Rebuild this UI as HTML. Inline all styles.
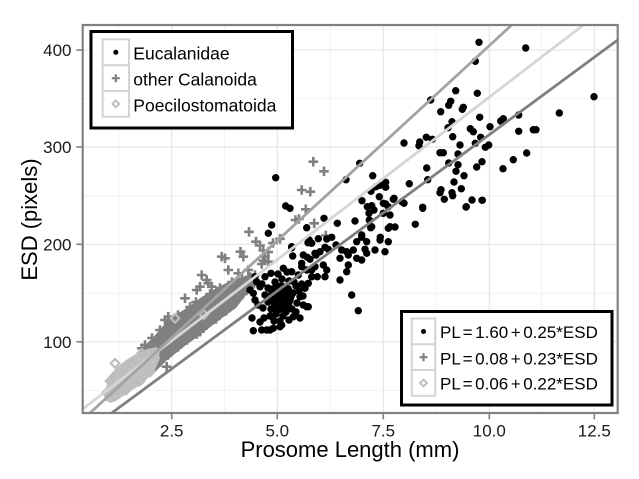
<!DOCTYPE html>
<html><head><meta charset="utf-8"><style>
html,body{margin:0;padding:0;background:#fff;}
svg{display:block;font-family:"Liberation Sans",Arial,sans-serif;}
</style></head><body>
<svg width="639" height="479" viewBox="0 0 639 479" xmlns="http://www.w3.org/2000/svg">
<defs><clipPath id="pc"><rect x="82.7" y="25" width="535" height="388"/></clipPath></defs>
<rect width="639" height="479" fill="#fff"/>
<g stroke="#f2f2f2" stroke-width="1">
<line x1="118.9" y1="25" x2="118.9" y2="413"/><line x1="224.5" y1="25" x2="224.5" y2="413"/><line x1="330.2" y1="25" x2="330.2" y2="413"/><line x1="435.9" y1="25" x2="435.9" y2="413"/><line x1="541.6" y1="25" x2="541.6" y2="413"/>
<line x1="82.7" y1="390.4" x2="617.7" y2="390.4"/><line x1="82.7" y1="293.2" x2="617.7" y2="293.2"/><line x1="82.7" y1="195.9" x2="617.7" y2="195.9"/><line x1="82.7" y1="98.6" x2="617.7" y2="98.6"/>
</g>
<g stroke="#e6e6e6" stroke-width="1.2">
<line x1="171.7" y1="25" x2="171.7" y2="413"/><line x1="277.3" y1="25" x2="277.3" y2="413"/><line x1="383.3" y1="25" x2="383.3" y2="413"/><line x1="489.3" y1="25" x2="489.3" y2="413"/><line x1="594.3" y1="25" x2="594.3" y2="413"/>
<line x1="82.7" y1="341.8" x2="617.7" y2="341.8"/><line x1="82.7" y1="244.3" x2="617.7" y2="244.3"/><line x1="82.7" y1="147" x2="617.7" y2="147"/><line x1="82.7" y1="50" x2="617.7" y2="50"/>
</g>
<g clip-path="url(#pc)">
<polygon fill="#808080" points="141.7,348.7 155,335.3 165,323.7 175,315.3 188.3,307 201.7,297 215,288.7 228.3,282 238.3,278.7 245,276 252,273 257,276 255,288 246,295 236,308 222,318 209,328 196,338 186,345 176,353 166,361 156,371 148,376 139,366"/>
<path fill="none" stroke="#808080" stroke-width="2.6" d="M308.5 161.7h9.6M313.3 156.9v9.6M319.2 171.3h9.6M324 166.5v9.6M296.9 190h9.6M301.7 185.2v9.6M305.5 191.7h9.6M310.3 186.9v9.6M301 209.3h9.6M305.8 204.5v9.6M290.7 220h9.6M295.5 215.2v9.6M294.2 219h9.6M299 214.2v9.6M309.4 223.3h9.6M314.2 218.5v9.6M321 235.5h9.6M325.8 230.7v9.6M275.2 238.8h9.6M280 234v9.6M244.2 231.8h9.6M249 227v9.6M251.2 241.7h9.6M256 236.9v9.6M255.2 245.5h9.6M260 240.7v9.6M258.5 250.5h9.6M263.3 245.7v9.6M263.5 252h9.6M268.3 247.2v9.6M260.2 256.7h9.6M265 251.9v9.6M258.5 260.5h9.6M263.3 255.7v9.6M263.5 261.7h9.6M268.3 256.9v9.6M256.9 264h9.6M261.7 259.2v9.6M235.7 251.7h9.6M240.5 246.9v9.6M238.5 256.7h9.6M243.3 251.9v9.6M216.9 256.7h9.6M221.7 251.9v9.6M220.2 258.3h9.6M225 253.5v9.6M223.5 270h9.6M228.3 265.2v9.6M233.5 273.3h9.6M238.3 268.5v9.6M243.5 270h9.6M248.3 265.2v9.6M250.2 275h9.6M255 270.2v9.6M196.9 275h9.6M201.7 270.2v9.6M201.9 280h9.6M206.7 275.2v9.6M195.2 286.7h9.6M200 281.9v9.6M203.5 283.3h9.6M208.3 278.5v9.6M191.9 290h9.6M196.7 285.2v9.6M206.9 286.7h9.6M211.7 281.9v9.6M180.2 298.3h9.6M185 293.5v9.6M163.5 316.7h9.6M168.3 311.9v9.6M160.2 320h9.6M165 315.2v9.6M136.9 348.3h9.6M141.7 343.5v9.6M201.9 325h9.6M206.7 320.2v9.6M195.2 331.7h9.6M200 326.9v9.6M161.9 366.7h9.6M166.7 361.9v9.6M268.2 243h9.6M273 238.2v9.6M140.2 345h9.6M145 340.2v9.6M147.2 338h9.6M152 333.2v9.6M155.2 330h9.6M160 325.2v9.6M165.2 322h9.6M170 317.2v9.6M173.2 315h9.6M178 310.2v9.6M185.2 307h9.6M190 302.2v9.6M191.2 302h9.6M196 297.2v9.6M205.2 294h9.6M210 289.2v9.6M215.2 288h9.6M220 283.2v9.6M227.2 282h9.6M232 277.2v9.6M237.2 279h9.6M242 274.2v9.6M245.2 277h9.6M250 272.2v9.6M238.2 294h9.6M243 289.2v9.6M230.2 302h9.6M235 297.2v9.6M221.2 311h9.6M226 306.2v9.6M211.2 319h9.6M216 314.2v9.6M192.2 334h9.6M197 329.2v9.6M182.2 340h9.6M187 335.2v9.6M173.2 347h9.6M178 342.2v9.6M163.2 355h9.6M168 350.2v9.6M155.2 362h9.6M160 357.2v9.6M147.2 368h9.6M152 363.2v9.6M247.2 285h9.6M252 280.2v9.6"/>
<polygon fill="#bfbfbf" points="104,400 106,388 109,376 116,368 126,360 136,354 147,349 157,347 160,358 155,370 147,379 139,386 129,392 119,399 111,403"/>
<path fill="none" stroke="#bdbdbd" stroke-width="2.2" d="M175 314l4.3 4.3-4.3 4.3-4.3-4.3zM203.8 310.2l4.3 4.3-4.3 4.3-4.3-4.3zM154.3 349l4.3 4.3-4.3 4.3-4.3-4.3zM141.7 349l4.3 4.3-4.3 4.3-4.3-4.3zM115 359l4.3 4.3-4.3 4.3-4.3-4.3zM106.7 388.4l4.3 4.3-4.3 4.3-4.3-4.3zM110 376.7l4.3 4.3-4.3 4.3-4.3-4.3zM120 367.7l4.3 4.3-4.3 4.3-4.3-4.3zM132 359.7l4.3 4.3-4.3 4.3-4.3-4.3zM150 367.7l4.3 4.3-4.3 4.3-4.3-4.3zM140 376.7l4.3 4.3-4.3 4.3-4.3-4.3zM126 385.7l4.3 4.3-4.3 4.3-4.3-4.3zM115 391.7l4.3 4.3-4.3 4.3-4.3-4.3z"/>
<polygon fill="#000" points="270,286 281,282 291,286 295,296 292,305 285,311 278,314 272,307 268,297"/>
<path fill="none" stroke="#000" stroke-width="7.4" stroke-linecap="round" d="M479 42.3h0M525.7 48h0M475.3 61.3h0M455.7 90.7h0M477.3 93.3h0M430.7 100h0M450.7 101.3h0M448.7 105.3h0M463.3 107.3h0M462.3 109.3h0M440.7 111.7h0M559.3 113h0M518.7 115h0M479.7 117.3h0M503.3 118.7h0M500.7 121h0M452 121.7h0M448 127.7h0M490 126.7h0M470.3 128.7h0M473.3 131.7h0M518.7 131.3h0M533.3 129.7h0M536 129.7h0M452.7 136.7h0M480.7 137.3h0M426.3 137.3h0M432.3 139.3h0M419.7 142h0M419 145.7h0M404 143h0M475.3 143.3h0M460 145h0M488.7 145h0M485.3 147.3h0M440 152.7h0M443.3 152.7h0M458 154h0M526.7 153h0M513.3 159.7h0M503 168.7h0M482 161.7h0M476.7 167h0M448.7 163h0M458 164.7h0M426.7 168h0M456 171.3h0M464 175.7h0M359.7 163.3h0M346 179.7h0M372.7 175.7h0M427.7 179.7h0M454 182h0M385.7 182.3h0M385.7 187.3h0M380 185.3h0M376 186.7h0M409.3 183.7h0M371 191.3h0M441 189.7h0M440 192.7h0M461.3 188.7h0M452 192.7h0M452.7 195.7h0M379.3 196.7h0M394 198.3h0M362 200.7h0M444.3 199.3h0M472 200h0M482.3 200.3h0M402 201.7h0M404 203.3h0M385.7 204h0M388.3 206.7h0M371.7 205.7h0M367.3 206.7h0M422.7 207.3h0M466.3 206.7h0M594 96.7h0M324 218.3h0M337.3 223.3h0M355 221h0M370.7 227.7h0M390 226.7h0M395 227h0M415.3 224.3h0M361.7 235h0M380.3 237.3h0M331.7 237.3h0M422.7 208.3h0M466 207h0M482 200.3h0M275.7 177.7h0M285.7 206h0M290 208.3h0M374 210h0M383.3 203.3h0M393.3 199.3h0M271.7 225h0M268.3 233.3h0M306.7 227.7h0M369 213.3h0M369.3 220h0M371.7 226.7h0M383.3 213.3h0M390 215h0M388.3 228.3h0M318.3 238.7h0M326.7 239h0M309.3 240h0M308 242.7h0M291.7 247.7h0M292.7 256h0M303.3 255h0M307.3 257.3h0M310 259.3h0M316 255h0M320 251.7h0M325 247.3h0M328.3 249.3h0M336 245h0M341.7 250h0M346.7 251.7h0M353.3 250h0M356.7 241.7h0M361.7 237.3h0M366.7 241.7h0M365 249.3h0M375 250h0M380 240h0M385 251.7h0M388.3 241.7h0M340 258.3h0M348.3 255h0M356.7 258.3h0M361.7 260h0M366.7 253.3h0M348.3 265h0M346.7 271.7h0M340 280h0M351.7 295h0M358.3 310.7h0M301.7 266.7h0M311.7 270h0M323.3 265h0M326.7 270h0M317.3 276.7h0M325 276.7h0M308.3 283.3h0M301.7 284h0M305 288.3h0M283.3 268.3h0M291.7 271.7h0M298.3 275h0M271 273.3h0M255 276.7h0M256.7 281.7h0M260 286.7h0M253.3 330.7h0M261.7 330h0M270 330h0M281.7 325h0M306.7 306.7h0M291.7 246.7h0M311.7 243.3h0M315 253.3h0M301.7 263.3h0M306.7 270h0M315 266.7h0M311.7 276.7h0M265 276.7h0M253.3 293.3h0M255 300h0M300 296.7h0M308.3 306.7h0M293.3 316.7h0M303.3 305h0M273.3 328.3h0M280 326.7h0M266.7 330h0M262 284h0M268 288h0M275 282h0M282 279h0M289 281h0M296 286h0M265 295h0M272 292h0M279 290h0M286 288h0M293 293h0M299 291h0M268 302h0M275 300h0M282 298h0M290 300h0M297 303h0M263 308h0M271 309h0M278 306h0M285 308h0M292 309h0M270 316h0M276 314h0M283 316h0M289 320h0M274 321h0M280 321h0M286 312h0M258 305h0M264 318h0M296 312h0M294 282h0M287 272h0M278 274h0M303 296h0M250 290h0M252 318h0M260 322h0M300 318h0"/>
<line x1="82.7" y1="409" x2="583.3" y2="25" stroke="#d6d6d6" stroke-width="2.8"/>
<line x1="90" y1="413" x2="511.7" y2="25" stroke="#a3a3a3" stroke-width="2.8"/>
<line x1="111.7" y1="413" x2="617.7" y2="40" stroke="#808080" stroke-width="2.8"/>
</g>
<rect x="82.7" y="25" width="535" height="388" fill="none" stroke="#808080" stroke-width="2.2"/>
<g stroke="#808080" stroke-width="1.6">
<line x1="76.3" y1="341.8" x2="82.7" y2="341.8"/><line x1="76.3" y1="244.3" x2="82.7" y2="244.3"/><line x1="76.3" y1="147" x2="82.7" y2="147"/><line x1="76.3" y1="50" x2="82.7" y2="50"/>
<line x1="171.7" y1="413" x2="171.7" y2="419.3"/><line x1="277.3" y1="413" x2="277.3" y2="419.3"/><line x1="383.3" y1="413" x2="383.3" y2="419.3"/><line x1="489.3" y1="413" x2="489.3" y2="419.3"/><line x1="594.3" y1="413" x2="594.3" y2="419.3"/>
</g>
<g font-size="17" fill="#1a1a1a" text-anchor="end">
<text x="71.5" y="56">400</text><text x="71.5" y="153">300</text><text x="71.5" y="250.3">200</text><text x="71.5" y="347.8">100</text>
</g>
<g font-size="17" fill="#1a1a1a" text-anchor="middle">
<text x="171.7" y="436.3">2.5</text><text x="277.3" y="436.3">5.0</text><text x="383.3" y="436.3">7.5</text><text x="489.3" y="436.3">10.0</text><text x="594.3" y="436.3">12.5</text>
</g>
<text x="350" y="457" font-size="22" text-anchor="middle" fill="#000">Prosome Length (mm)</text>
<text transform="translate(37,219.5) rotate(-90)" font-size="22" text-anchor="middle" fill="#000">ESD (pixels)</text>
<rect x="91" y="31.5" width="201.5" height="96.5" fill="#fff" stroke="#000" stroke-width="3"/>
<g fill="#fff" stroke="#d4d4d4" stroke-width="2">
<rect x="102.7" y="39.3" width="26.3" height="26"/><rect x="102.7" y="65.3" width="26.3" height="25.8"/><rect x="102.7" y="91.1" width="26.3" height="25.6"/>
</g>
<circle cx="115.8" cy="52.3" r="2.5" fill="#000"/>
<path d="M111.8 78.2h8M115.8 74.2v8" stroke="#808080" stroke-width="2.2" fill="none"/>
<path d="M115.8 100.5l3.4 3.4-3.4 3.4-3.4-3.4z" stroke="#bdbdbd" stroke-width="1.9" fill="none"/>
<g font-size="17.5" fill="#000">
<text x="133.3" y="59.6">Eucalanidae</text><text x="133.3" y="85.6">other Calanoida</text><text x="133.3" y="111.4">Poecilostomatoida</text>
</g>
<rect x="401.5" y="311.5" width="210.5" height="93.5" fill="#fff" stroke="#000" stroke-width="3"/>
<g fill="#fff" stroke="#d4d4d4" stroke-width="2">
<rect x="411.7" y="318.5" width="23.5" height="25.8"/><rect x="411.7" y="344.3" width="23.5" height="25.7"/><rect x="411.7" y="370" width="23.5" height="25.8"/>
</g>
<circle cx="423.5" cy="331.5" r="2.5" fill="#000"/>
<path d="M419.5 357.2h8M423.5 353.2v8" stroke="#808080" stroke-width="2.2" fill="none"/>
<path d="M423.5 379.6l3.4 3.4-3.4 3.4-3.4-3.4z" stroke="#bdbdbd" stroke-width="1.9" fill="none"/>
<g font-size="17" fill="#000" word-spacing="-2.2">
<text x="440" y="338">PL = 1.60 + 0.25*ESD</text>
<text x="440" y="364.3">PL = 0.08 + 0.23*ESD</text>
<text x="440" y="389.6">PL = 0.06 + 0.22*ESD</text>
</g>
</svg>
</body></html>
